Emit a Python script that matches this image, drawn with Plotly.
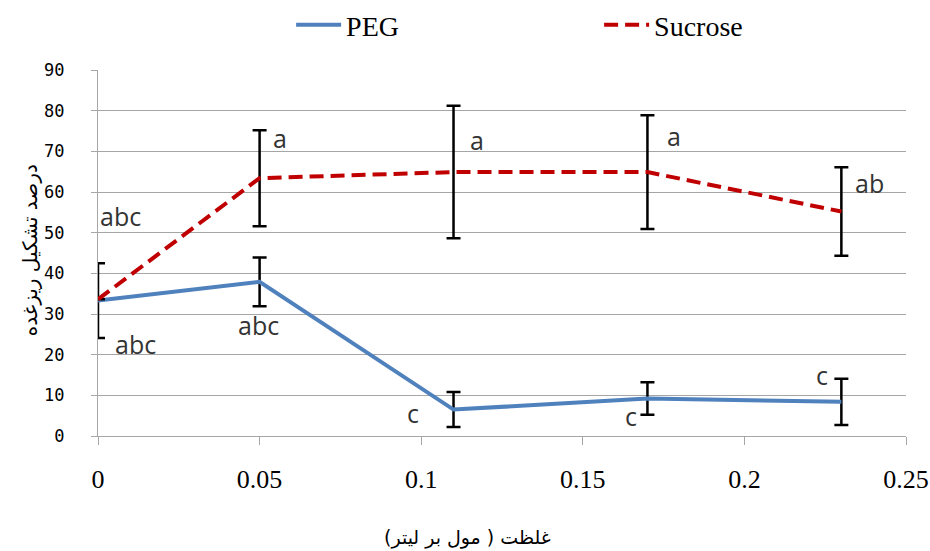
import plotly.graph_objects as go

x_vals = [0, 0.05, 0.11, 0.17, 0.23]
peg = [33.3, 37.9, 6.5, 9.2, 8.4]
peg_err = [9.2, 6.0, 4.3, 4.0, 5.7]
sucrose = [33.6, 63.4, 64.9, 64.9, 55.2]
sucrose_err = [0, 11.8, 16.3, 14.0, 10.9]

# significance letters
label_x = [0.0, 0.0045, 0.0497, 0.0535, 0.1145, 0.1755, 0.2335, 0.1, 0.1675, 0.2265]
label_y = [54.0, 22.7, 27.3, 73.4, 72.8, 73.7, 62.1, 5.6, 4.9, 15.1]
label_text = ["abc", "abc", "abc", "a", "a", "a", "ab", "c", "c", "c"]
label_anchor = ["left", "left", "center", "left", "left", "left", "left", "right", "right", "right"]

x_ticks = [0, 0.05, 0.1, 0.15, 0.2, 0.25]
y_ticks = [0, 10, 20, 30, 40, 50, 60, 70, 80, 90]

fig = go.Figure()
fig.add_trace(go.Scatter(
    x=x_vals, y=peg, name="PEG", mode="lines", cliponaxis=False,
    line=dict(color="#4F81BD", width=4),
    error_y=dict(type="data", array=peg_err, visible=True, color="black", thickness=2.5, width=7),
))
fig.add_trace(go.Scatter(
    x=x_vals, y=sucrose, name="Sucrose", mode="lines", cliponaxis=False,
    line=dict(color="#C00000", width=4, dash="14px,7px"),
    error_y=dict(type="data", array=sucrose_err, visible=True, color="black", thickness=2.5, width=7),
))

for lx, ly, lt, la in zip(label_x, label_y, label_text, label_anchor):
    fig.add_annotation(x=lx, y=ly, xref="x", yref="y", text=lt, showarrow=False,
                       xanchor=la, yanchor="middle",
                       font=dict(family="Open Sans, DejaVu Sans, Arial", size=25, color="#333333"))

fig.add_annotation(x=0.457, y=-0.276, xref="paper", yref="paper",
                   text="غلظت ( مول بر لیتر)", showarrow=False,
                   xanchor="center", yanchor="middle",
                   font=dict(family="DejaVu Sans", size=19, color="black"))
fig.add_annotation(x=-0.084, y=0.508, xref="paper", yref="paper",
                   text="درصد تشکیل ریزغده", showarrow=False, textangle=-90,
                   xanchor="center", yanchor="middle",
                   font=dict(family="DejaVu Sans", size=20, color="black"))

fig.update_layout(
    width=930, height=551,
    margin=dict(l=98, r=24, t=70, b=115, autoexpand=False),
    paper_bgcolor="white", plot_bgcolor="white",
    showlegend=True,
    legend=dict(orientation="h", x=0.239, y=1.123, xanchor="left", yanchor="middle",
                font=dict(family="Liberation Serif, Times New Roman", size=28, color="black"),
                entrywidth=248, entrywidthmode="pixels", itemwidth=45),
    xaxis=dict(range=[0, 0.25], tickvals=x_ticks, ticktext=[str(v) for v in x_ticks],
               showgrid=False,
               showline=True, linecolor="#A6A6A6", linewidth=1,
               ticks="outside", ticklen=8, tickcolor="#A6A6A6",
               zeroline=False, ticklabelstandoff=12,
               tickfont=dict(family="Liberation Serif, Times New Roman", size=26, color="black")),
    yaxis=dict(range=[0, 90], tickvals=y_ticks,
               showgrid=True, gridcolor="#A6A6A6", gridwidth=1,
               showline=True, linecolor="#A6A6A6", linewidth=1,
               ticks="outside", ticklen=6, tickcolor="#A6A6A6",
               zeroline=False, ticklabelstandoff=23,
               tickfont=dict(family="DejaVu Sans Mono, Liberation Mono", size=17, color="black")),
)

# remove the page's default body margin so the 930x551 figure fills the window exactly
fig.write_html("out.html",
               config={"displayModeBar": False},
               post_script="document.body.style.margin='0';document.body.style.overflow='hidden';")
